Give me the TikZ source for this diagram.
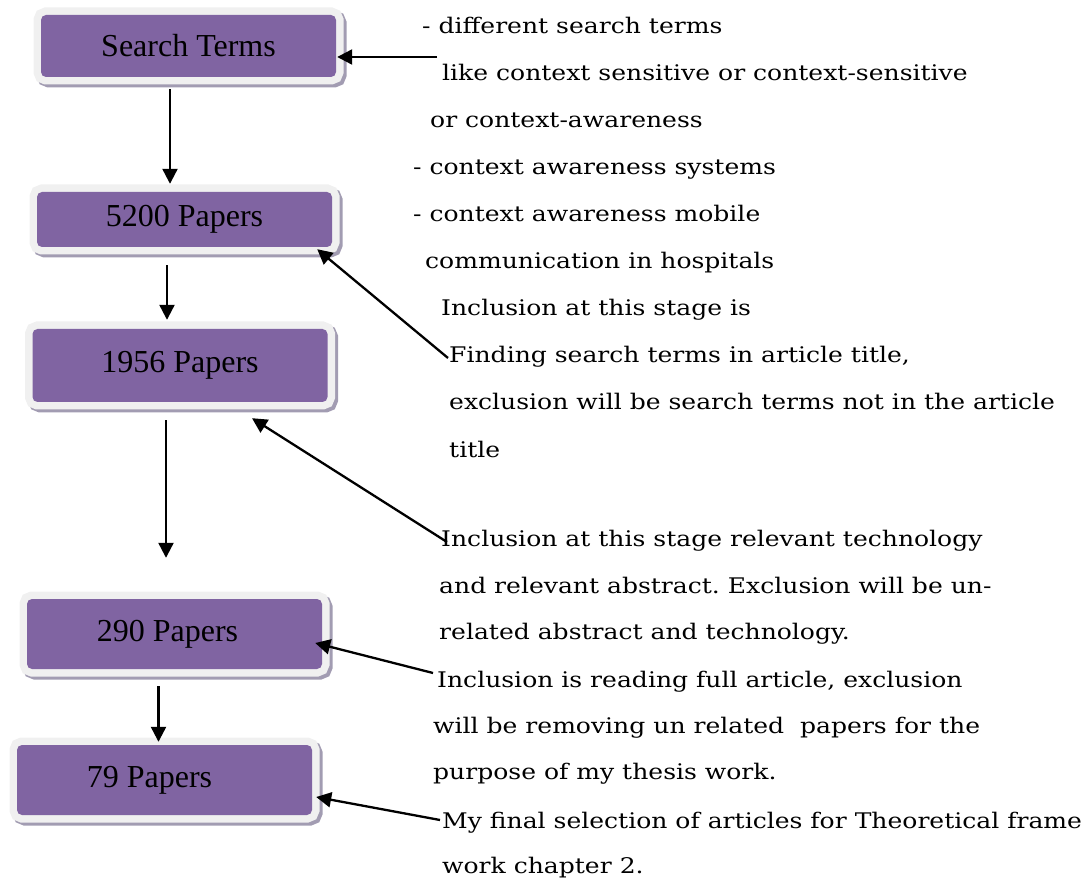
\documentclass[tikz,border=0pt]{standalone}
\usepackage{fontspec}
\setmainfont{Liberation Serif}
\newfontfamily\notefont[FakeStretch=1.165]{DejaVu Serif}
\usetikzlibrary{arrows.meta,calc}
\definecolor{boxpurple}{HTML}{8064A2}
\definecolor{boxframe}{HTML}{F0F0F0}
\definecolor{boxshadow}{HTML}{A29CB2}
\frenchspacing
\begin{document}
\begin{tikzpicture}[x=1pt,y=-1pt,
  stagebox/.style={fill=boxpurple, rounded corners=5pt, inner sep=0pt,
    minimum width=295pt, minimum height=#1,
    font=\fontsize{32}{34}\selectfont,
    preaction={draw=boxshadow, line width=15pt, transform canvas={shift={(3pt,-3pt)}}},
    preaction={draw=boxframe, line width=15pt}},
  note/.style={anchor=base west, inner sep=0pt, font=\notefont\fontsize{21.5}{24}\selectfont},
  arr/.style={line width=2.3pt, -{Triangle[length=15pt,width=15pt]}}]
\useasboundingbox (0,0) rectangle (1090,882);

% stage boxes
\node[stagebox=62pt] (b1) at (188.5,46) {Search Terms};
\node[stagebox=55pt] (b2) at (184.5,219.5) {5200 Papers};
\node[stagebox=73pt] (b3) at (180,365.5) {1956 Papers};
\node[stagebox=70pt] (b4) at (174.5,634) {290 Papers\hspace*{14pt}};
\node[stagebox=70pt] (b5) at (164.5,780) {79 Papers\hspace*{30pt}};

% notes
\node[note] (t1)  at (422,34)  {- different search terms};
\node[note] (t2)  at (442,81)  {like context sensitive or context-sensitive};
\node[note] (t3)  at (430,128) {or context-awareness};
\node[note] (t4)  at (413,175) {- context awareness systems};
\node[note] (t5)  at (413,222) {- context awareness mobile};
\node[note] (t6)  at (425,269) {communication in hospitals};
\node[note] (t7)  at (441,316) {Inclusion at this stage is};
\node[note] (t8)  at (449,363) {Finding search terms in article title,};
\node[note] (t9)  at (449,410) {exclusion will be search terms not in the article};
\node[note] (t10) at (449,457) {title};
\node[note] (t11) at (441,546) {Inclusion at this stage relevant technology};
\node[note] (t12) at (439,593) {and relevant abstract. Exclusion will be un-};
\node[note] (t13) at (439,639) {related abstract and technology.};
\node[note] (t14) at (437,687) {Inclusion is reading full article, exclusion};
\node[note] (t15) at (433,733) {will be removing un related\ \ papers for the};
\node[note] (t16) at (433,779) {purpose of my thesis work.};
\node[note] (t17) at (442,828) {My final selection of articles for Theoretical frame};
\node[note] (t18) at (442,873) {work chapter 2.};

% free ends of the side connectors
\coordinate (c1) at (437,57);
\coordinate (c2) at (448,358);
\coordinate (c3) at (447,542);
\coordinate (c4) at (433,673);
\coordinate (c5) at (440,820);

% flow between stages
\draw[arr] ($(b1.south)+(-18.5,12)$) -- ($(b2.north)+(-14.5,-8)$);
\draw[arr] ($(b2.south)+(-17.5,18)$) -- ($(b3.north)+(-13,-9)$);
\draw[arr] ($(b3.south)+(-14,18)$) -- ($(b4.north)+(-8.5,-41)$);
\draw[arr] ($(b4.south)+(-16,17)$) -- ($(b5.north)+(-6,-3)$);

% notes pointing at stages
\draw[arr] (c1) -- ($(b1.east)+(1,11)$);
\draw[arr] (c2) -- ($(b2.south east)+(-15,2)$);
\draw[arr] (c3) -- ($(b3.south)+(72,16)$);
\draw[arr] (c4) -- ($(b4.east)+(-7,9)$);
\draw[arr] (c5) -- ($(b5.east)+(4,17)$);
\end{tikzpicture}
\end{document}
